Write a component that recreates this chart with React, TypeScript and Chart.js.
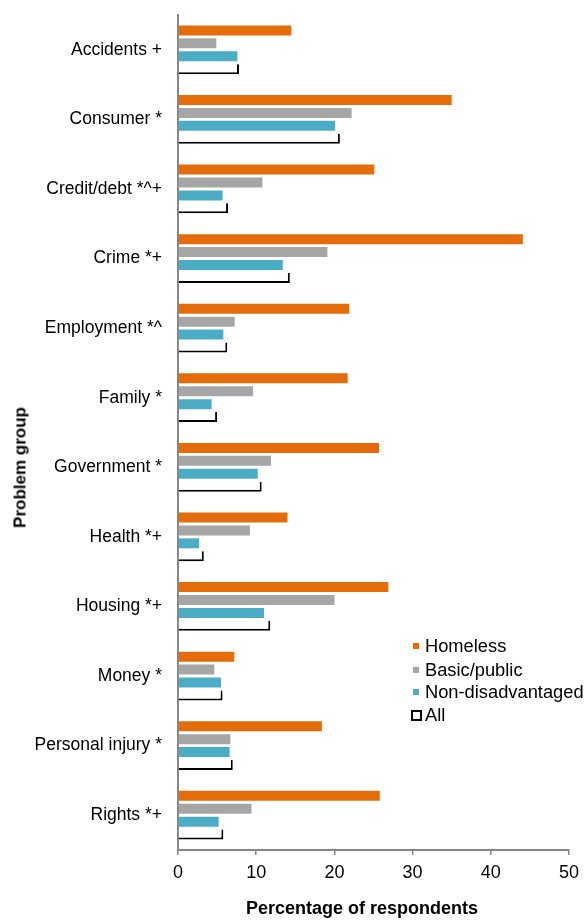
import React, { useEffect, useRef } from "react";
import { Chart, registerables } from "chart.js";

Chart.register(...registerables);

const categories = [
  "Accidents +",
  "Consumer *",
  "Credit/debt *^+",
  "Crime *+",
  "Employment *^",
  "Family *",
  "Government *",
  "Health *+",
  "Housing *+",
  "Money *",
  "Personal injury *",
  "Rights *+",
];
const homeless = [14.5, 35.0, 25.1, 44.1, 21.9, 21.7, 25.7, 14.0, 26.9, 7.2, 18.4, 25.8];
const basicPublic = [4.9, 22.2, 10.8, 19.1, 7.25, 9.6, 11.9, 9.2, 20.0, 4.65, 6.7, 9.4];
const nonDisadvantaged = [7.6, 20.1, 5.7, 13.4, 5.8, 4.3, 10.2, 2.7, 11.0, 5.5, 6.6, 5.2];
const allRespondents = [7.8, 20.7, 6.4, 14.3, 6.3, 5.0, 10.7, 3.3, 11.8, 5.7, 7.0, 5.8];
const xTicks = [0, 10, 20, 30, 40, 50];

const ORANGE = "#E46C0A";
const GREY = "#A6A6A6";
const BLUE = "#4BACC6";
const AXIS = "#868686";
const FONT = "'Liberation Sans', Arial, sans-serif";

export default function App() {
  const canvasRef = useRef<HTMLCanvasElement | null>(null);

  useEffect(() => {
    const canvas = canvasRef.current;
    if (!canvas) return;
    const barOpts = { barPercentage: 0.775, categoryPercentage: 0.742 };
    const chart = new Chart(canvas, {
      type: "bar",
      data: {
        labels: categories,
        datasets: [
          { label: "Homeless", data: homeless, backgroundColor: ORANGE, borderWidth: 0, ...barOpts },
          { label: "Basic/public", data: basicPublic, backgroundColor: GREY, borderWidth: 0, ...barOpts },
          { label: "Non-disadvantaged", data: nonDisadvantaged, backgroundColor: BLUE, borderWidth: 0, ...barOpts },
          {
            label: "All",
            data: allRespondents,
            backgroundColor: "#FFFFFF",
            borderColor: "#000000",
            borderWidth: { top: 0, right: 2, bottom: 2, left: 0 },
            borderSkipped: false,
            ...barOpts,
          },
        ],
      },
      options: {
        indexAxis: "y",
        responsive: false,
        animation: false,
        devicePixelRatio: 1,
        layout: { padding: { top: 15, right: 19, left: 0, bottom: 0 } },
        plugins: {
          legend: { display: false },
          tooltip: { enabled: false },
        },
        scales: {
          x: {
            type: "linear",
            min: 0,
            max: 50,
            afterBuildTicks: (scale: any) => {
              scale.ticks = xTicks.map((v) => ({ value: v }));
            },
            afterFit: (scale: any) => {
              scale.height = 74;
              scale.paddingLeft = 0;
              scale.paddingRight = 0;
            },
            grid: {
              display: true,
              drawOnChartArea: false,
              drawTicks: true,
              tickLength: 5,
              color: AXIS,
              lineWidth: 1.5,
            },
            border: { display: true, color: AXIS, width: 2 },
            ticks: {
              color: "#000",
              font: { family: FONT, size: 18 },
              padding: 7,
              maxRotation: 0,
            },
          },
          y: {
            type: "category",
            z: 1,
            afterFit: (scale: any) => {
              scale.width = 178;
              scale.paddingTop = 0;
              scale.paddingBottom = 0;
            },
            grid: { display: false, drawTicks: false },
            border: { display: true, color: AXIS, width: 2 },
            ticks: {
              color: "#000",
              font: { family: FONT, size: 17.5 },
              padding: 16,
              autoSkip: false,
            },
          },
        },
      },
    } as any);
    return () => chart.destroy();
  }, []);

  const legendItems = [
    { label: "Homeless", color: ORANGE, top: 637 },
    { label: "Basic/public", color: GREY, top: 661 },
    { label: "Non-disadvantaged", color: BLUE, top: 683 },
  ];

  return (
    <div
      style={{
        position: "absolute",
        left: 0,
        top: 0,
        width: 588,
        height: 924,
        background: "#fff",
        fontFamily: FONT,
        color: "#000",
      }}
    >
      <canvas ref={canvasRef} width={588} height={924} style={{ display: "block" }} />
      {legendItems.map((it) => (
        <div key={it.label} style={{ position: "absolute", left: 410, top: it.top, height: 18 }}>
          <span
            style={{
              position: "absolute",
              left: 3,
              top: 6,
              width: 6,
              height: 6,
              background: it.color,
            }}
          />
          <span
            style={{
              position: "absolute",
              left: 15,
              top: 0,
              fontSize: 18.3,
              lineHeight: "18px",
              whiteSpace: "nowrap",
            }}
          >
            {it.label}
          </span>
        </div>
      ))}
      <div style={{ position: "absolute", left: 410, top: 706, height: 18 }}>
        <span
          style={{
            position: "absolute",
            left: 1,
            top: 4,
            width: 7,
            height: 7,
            border: "2px solid #000",
            background: "#fff",
          }}
        />
        <span
          style={{
            position: "absolute",
            left: 15,
            top: 0,
            fontSize: 18.3,
            lineHeight: "18px",
            whiteSpace: "nowrap",
          }}
        >
          All
        </span>
      </div>
      <div
        style={{
          position: "absolute",
          left: 162,
          top: 899,
          width: 400,
          textAlign: "center",
          fontSize: 18,
          lineHeight: "18px",
          fontWeight: "bold",
          whiteSpace: "nowrap",
        }}
      >
        Percentage of respondents
      </div>
      <div
        style={{
          position: "absolute",
          left: 20 - 100,
          top: 467 - 8.5,
          width: 200,
          height: 17,
          textAlign: "center",
          fontSize: 17,
          lineHeight: "17px",
          fontWeight: "bold",
          whiteSpace: "nowrap",
          transform: "rotate(-90deg)",
        }}
      >
        Problem group
      </div>
    </div>
  );
}
